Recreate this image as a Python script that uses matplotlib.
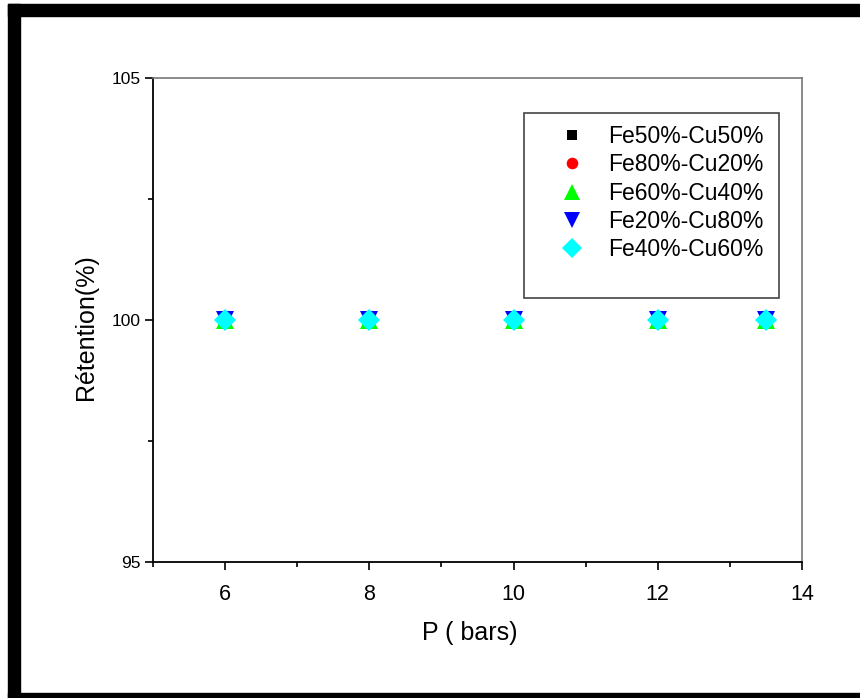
import matplotlib
matplotlib.use("Agg")
import matplotlib.pyplot as plt
from matplotlib.patches import Rectangle
from matplotlib.ticker import MultipleLocator

plt.rcParams['font.family'] = ['Liberation Sans', 'DejaVu Sans']

pressure = [6, 8, 10, 12, 13.5]
series_labels = ["Fe50%-Cu50%", "Fe80%-Cu20%", "Fe60%-Cu40%", "Fe20%-Cu80%", "Fe40%-Cu60%"]
retention = [
    [100, 100, 100, 100, 100],
    [100, 100, 100, 100, 100],
    [100, 100, 100, 100, 100],
    [100, 100, 100, 100, 100],
    [100, 100, 100, 100, 100],
]
markers = ["s", "o", "^", "v", "D"]
colors = ["black", "red", "#00ff00", "blue", "cyan"]
sizes = [8, 9.5, 13, 13, 11.5]

W, H = 860, 698
fig = plt.figure(figsize=(W / 100, H / 100), dpi=100)


def px_rect(x0, y_top, x1, y_bot):
    """Rectangle in figure fraction from pixel box (origin at top-left)."""
    return (x0 / W, (H - y_bot) / H, (x1 - x0) / W, (y_bot - y_top) / H)


# black frame bars (top, left, bottom)
for box in [(8, 4, W, 16), (8, 4, 20, H), (8, 693, W, H)]:
    x, y, w, h = px_rect(*box)
    fig.patches.append(Rectangle((x, y), w, h, transform=fig.transFigure,
                                 color="black", zorder=0))

ax = fig.add_axes(px_rect(153, 78, 802, 562))

for vals, lab, m, c, s in zip(retention, series_labels, markers, colors, sizes):
    ax.plot(pressure, vals, linestyle="none", marker=m, color=c, markersize=s,
            markeredgewidth=0, label=lab)

ax.set_xlim(5, 14)
ax.set_ylim(95, 105)
ax.xaxis.set_major_locator(MultipleLocator(2))
ax.xaxis.set_minor_locator(MultipleLocator(1))
ax.yaxis.set_major_locator(MultipleLocator(5))
ax.yaxis.set_minor_locator(MultipleLocator(2.5))

ax.tick_params(axis="both", which="both", direction="out", top=False, right=False, width=1.2)
ax.tick_params(axis="both", which="major", length=6)
ax.tick_params(axis="both", which="minor", length=3.5)
ax.tick_params(axis="x", labelsize=15.5, pad=10)
ax.tick_params(axis="y", labelsize=12.5, pad=3)

for side in ["left", "bottom"]:
    ax.spines[side].set_linewidth(1.3)
    ax.spines[side].set_color("black")
for side in ["top", "right"]:
    ax.spines[side].set_linewidth(1.2)
    ax.spines[side].set_color("#777777")

ax.set_xlabel("P ( bars)", fontsize=18)
ax.set_ylabel("Rétention(%)", fontsize=18)
ax.xaxis.set_label_coords((470 - 153) / 649, (562 - 621) / 484)
ax.yaxis.set_label_coords((98 - 153) / 649, (562 - 327) / 484)

# legend box drawn separately so it keeps its empty lower part
x, y, w, h = px_rect(524, 113, 779, 298)
fig.patches.append(Rectangle((x, y), w, h, transform=fig.transFigure, fill=False,
                             edgecolor="#444444", linewidth=1.2, zorder=3))
leg = ax.legend(loc="upper left", bbox_to_anchor=(555 / W, (H - 125) / H),
                bbox_transform=fig.transFigure, fontsize=16.5, frameon=False,
                handlelength=1.5, handletextpad=0.8, labelspacing=0.23,
                borderpad=0, borderaxespad=0, markerscale=0.88)

fig.savefig("out.png", dpi=100)
